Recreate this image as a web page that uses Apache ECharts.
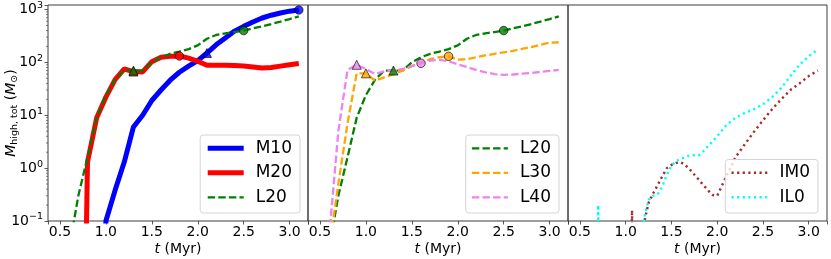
<!DOCTYPE html>
<html><head><meta charset="utf-8">
<script src="https://cdn.jsdelivr.net/npm/echarts@6/dist/echarts.min.js"></script>
<style>html,body{margin:0;padding:0;background:#fff}#c{width:831px;height:259px}</style>
</head><body><div id="c"></div>
<script>
// ---- data ----
const times = [0.6,0.7,0.8,0.9,1.0,1.1,1.2,1.3,1.4,1.5,1.6,1.7,1.8,1.9,2.0,2.1,2.2,2.3,2.4,2.5,2.6,2.7,2.8,2.9,3.0,3.1];
const M10 = [1e-10,1e-10,1e-10,1e-10,0.1,0.38,1.3,6,10,19,30,46,65,85,108,150,215,290,390,480,580,690,780,860,930,980];
const M20 = [1e-10,1e-10,1.3,9,22,47,75,67,66,103,125,130,132,120,105,88,88,88,87,85,82,78,80,85,90,95];
const L20 = [0.03,0.3,1.6,9,24,47,70,70,70,100,125,145,160,178,210,280,330,355,375,400,440,480,530,590,660,740];
const L30 = [0.03,0.5,7,62,62,45,52,60,70,85,100,115,125,130,113,115,125,135,145,155,165,180,195,215,235,240];
const L40 = [0.05,5,72,90,75,60,68,70,75,85,96,108,112,105,92,82,72,65,60,58,59,61,63,66,69,72];

const tIM0 = [1.0,1.07,1.14,1.2,1.25,1.3,1.35,1.4,1.45,1.5,1.55,1.6,1.65,1.7,1.8,1.9,1.95,2.0,2.1,2.2,2.3,2.4,2.5,2.6,2.7,2.8,2.9,3.0,3.1];
const IM0  = [1e-10,0.16,1e-10,0.09,0.22,0.33,0.48,0.7,1.0,1.15,1.25,1.3,1.15,0.95,0.6,0.38,0.31,0.3,0.7,1.6,2.8,4.8,8,13,20,30,40,55,70];
const tIL0 = [0.65,0.7,0.75,1.15,1.2,1.25,1.3,1.35,1.4,1.45,1.5,1.55,1.6,1.65,1.7,1.8,1.85,1.9,2.0,2.1,2.2,2.3,2.4,2.5,2.6,2.7,2.8,2.9,3.0,3.1];
const IL0  = [1e-10,0.2,1e-10,1e-10,0.11,0.25,0.3,0.32,0.45,0.75,1.1,1.35,1.5,1.6,1.75,1.75,2.1,2.6,4,6.5,9,11,13,16,22,33,55,90,130,175];

// marker times (triangle, circle) per run
const markerRuns  = ['M10','M20','L20','L30','L40'];
const triTimes    = [2.1, 1.3, 1.3, 1.0, 0.9];
const circTimes   = [3.1, 1.8, 2.5, 1.9, 1.6];

const yTickExps = [-1,0,1,2,3];
const minorY = [0.2,0.3,0.4,0.5,0.6,0.7,0.8,0.9,2,3,4,5,6,7,8,9,20,30,40,50,60,70,80,90,200,300,400,500,600,700,800,900];

// ---- styles ----
const FONT = 'DejaVu Sans';
const xMin = 0.37, xMax = 3.2, yMin = 0.1, yMax = 1216;
const runValues = {M10, M20, L20, L30, L40};
const runColor = {M10:'#0000ff', M20:'#ff0000', L20:'#008000', L30:'#ffa500', L40:'#ee82ee', IM0:'#a52a2a', IL0:'#00ffff'};
const runWidth = {M10:5, M20:5, L20:2.3, L30:2.3, L40:2.3, IM0:2.4, IL0:2.4};
const DASH = [7.4, 3.2], DOT = [2.2, 3.4];
const runType = {M10:'solid', M20:'solid', L20:DASH, L30:DASH, L40:DASH, IM0:DOT, IL0:DOT};

function pairs(ts, vs){ return ts.map((t,i)=>[t, vs[i]]); }
function lineSeries(name, ts, vs, gi){
  return {type:'line', name, xAxisIndex:gi, yAxisIndex:gi, data:pairs(ts,vs), symbol:'none', showSymbol:false,
    lineStyle:{color:runColor[name], width:runWidth[name], type:runType[name]}, itemStyle:{color:runColor[name]}, z:2, clip:true, animation:false};
}
function markerSeries(name, gi){
  const k = markerRuns.indexOf(name);
  const vs = runValues[name];
  const tv = t => vs[times.findIndex(x=>Math.abs(x-t)<1e-9)];
  return {type:'scatter', name:'_mk_'+name, xAxisIndex:gi, yAxisIndex:gi, z:5, animation:false,
    itemStyle:{color:runColor[name], borderColor:'#000', borderWidth:0.8},
    data:[{value:[triTimes[k], tv(triTimes[k])], symbol:'triangle', symbolSize:9},
          {value:[circTimes[k], tv(circTimes[k])], symbol:'circle', symbolSize:8.5}]};
}

const grids = [0,1,2].map(i=>({left:48+260*i, width: i===2?259:260, top:5, height:216,
  outerBoundsMode:'none', containLabel:false,
  show:true, borderColor:'#3c3c3c', borderWidth:1, backgroundColor:'transparent'}));

const xAxes = [0,1,2].map(i=>({type:'value', gridIndex:i, min:xMin, max:xMax,
  axisLine:{show:false}, splitLine:{show:false},
  axisTick:{show:true, length:3.5, lineStyle:{color:'#333', width:0.8}},
  axisLabel:{fontFamily:FONT, fontSize:14, color:'#000', margin:4,
    formatter:v=> Math.abs(v*2-Math.round(v*2))<1e-6 ? v.toFixed(1) : ''},
  name:'{it|t} (Myr)', nameLocation:'middle', nameGap:21, nameMoveOverlap:false,
  nameTextStyle:{fontFamily:FONT, fontSize:14, color:'#000', rich:{it:{fontStyle:'italic', fontFamily:FONT, fontSize:14}}}
}));

function yLabel(v){
  const l = Math.log10(v), e = Math.round(l);
  if (Math.abs(l-e) > 1e-6 || yTickExps.indexOf(e) < 0) return '';
  return '{b|10}{sup|' + (e<0 ? '\u2212'+(-e) : e) + '}';
}
const yAxes = [0,1,2].map(i=>({type:'log', logBase:10, gridIndex:i, min:yMin, max:yMax,
  axisLine:{show:false}, splitLine:{show:false}, minorTick:{show:false},
  axisTick:{show:i===0, length:3.5, lineStyle:{color:'#333', width:0.8}},
  axisLabel:{show:i===0, margin:5, formatter:yLabel, fontFamily:FONT, color:'#000',
    rich:{b:{fontFamily:FONT, fontSize:14, lineHeight:18, color:'#000'},
          sup:{fontFamily:FONT, fontSize:9.5, lineHeight:11, verticalAlign:'top', color:'#000'}}},
  name: i===0 ? '{it|M}{sub|high, tot} ({it|M}{sub|\u2299})' : '',
  nameLocation:'middle', nameRotate:90, nameGap:28, nameMoveOverlap:false,
  nameTextStyle:{fontFamily:FONT, fontSize:14, color:'#000',
    rich:{it:{fontStyle:'italic', fontFamily:FONT, fontSize:14, lineHeight:18},
          sub:{fontFamily:FONT, fontSize:9.5, lineHeight:10, verticalAlign:'bottom'}}}
}));

const legendCommon = {orient:'vertical', bottom:46, itemWidth:36, itemHeight:14, itemGap:4.5,
  padding:[3.3,8,5.7,5], backgroundColor:'rgba(255,255,255,0.8)', borderColor:'#d4d4d4', borderWidth:1, borderRadius:3,
  selectedMode:false, itemStyle:{opacity:0, borderWidth:0},
  textStyle:{fontFamily:FONT, fontSize:17, color:'#000', lineHeight:20, padding:[0,0,0,7]}};
function legendData(names){
  return names.map(n=>({name:n, lineStyle:{width:runWidth[n], type:runType[n], color:runColor[n]}}));
}

const series = [
  lineSeries('M10', times, M10, 0),
  lineSeries('M20', times, M20, 0),
  lineSeries('L20', times, L20, 0),
  markerSeries('M10',0), markerSeries('M20',0), markerSeries('L20',0),
  lineSeries('L20', times, L20, 1),
  lineSeries('L30', times, L30, 1),
  lineSeries('L40', times, L40, 1),
  markerSeries('L20',1), markerSeries('L30',1), markerSeries('L40',1),
  lineSeries('IM0', tIM0, IM0, 2),
  lineSeries('IL0', tIL0, IL0, 2),
  {type:'custom', xAxisIndex:0, yAxisIndex:0, clip:false, silent:true, animation:false, z:6,
   data:minorY.map(v=>[xMin, v]),
   renderItem:(p, api)=>{ const c = api.coord([api.value(0), api.value(1)]);
     return {type:'line', shape:{x1:c[0]-2, y1:c[1], x2:c[0], y2:c[1]}, style:{stroke:'#333', lineWidth:0.6}}; }}
];

const chart = echarts.init(document.getElementById('c'), null, {renderer:'canvas'});
chart.setOption({
  animation:false,
  grid:grids, xAxis:xAxes, yAxis:yAxes,
  legend:[
    Object.assign({data:legendData(['M10','M20','L20']), right:531}, legendCommon),
    Object.assign({data:legendData(['L20','L30','L40']), right:272}, legendCommon),
    Object.assign({data:legendData(['IM0','IL0']), right:13}, legendCommon)
  ],
  series
});
</script></body></html>
